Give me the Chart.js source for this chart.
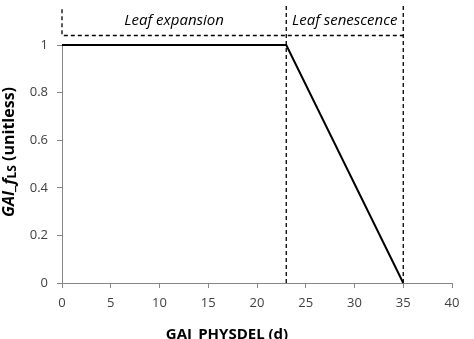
<!DOCTYPE html>
<html><head><meta charset="utf-8">
<script src="https://cdn.jsdelivr.net/npm/chart.js@4/dist/chart.umd.min.js"></script>
<style>html,body{margin:0;padding:0;background:#fff}#wrap{width:474px;height:339px}</style>
</head><body><div id="wrap"><canvas id="c" width="474" height="339"></canvas></div>
<script>
// Data
const curveX = [0, 23, 35];
const curveY = [1, 1, 0];
const phaseBounds = [0, 23, 35];
const phaseLabels = ['Leaf expansion', 'Leaf senescence'];
const headerY = 1.04;     // dashed horizontal box line (value units)
const headerTop = 1.165;  // top of dashed vertical separators
const xTicks = [0, 5, 10, 15, 20, 25, 30, 35, 40];
const yTicks = [0, 0.2, 0.4, 0.6, 0.8, 1];

const dashStyle = {borderColor:'#000', borderWidth:1.3, borderDash:[4,3], pointRadius:0, fill:false, clip:false, tension:0};

const datasets = [
  {data: curveX.map((x,i)=>({x, y: curveY[i]})), borderColor:'#000', borderWidth:2, pointRadius:0, fill:false, tension:0, clip:false, order:0},
  Object.assign({data:[{x:phaseBounds[0], y:headerTop-0.015},{x:phaseBounds[0], y:headerY},{x:phaseBounds[2], y:headerY}]}, dashStyle),
  Object.assign({data:[{x:phaseBounds[1], y:0},{x:phaseBounds[1], y:headerTop}]}, dashStyle),
  Object.assign({data:[{x:phaseBounds[2], y:0},{x:phaseBounds[2], y:headerTop}]}, dashStyle)
];

const textPlugin = {
  id:'texts',
  afterDraw(chart){
    const ctx = chart.ctx, xs = chart.scales.x, ys = chart.scales.y, a = chart.chartArea;
    ctx.save();
    ctx.fillStyle = '#000';
    ctx.font = 'italic 15px "Open Sans"';
    ctx.textAlign = 'center'; ctx.textBaseline = 'middle';
    const ty = (ys.getPixelForValue(headerY) + ys.getPixelForValue(headerTop)) / 2;
    for (let i = 0; i < phaseLabels.length; i++) {
      const cx = (xs.getPixelForValue(phaseBounds[i]) + xs.getPixelForValue(phaseBounds[i+1])) / 2;
      ctx.fillText(phaseLabels[i], cx, ty);
    }
    // x title
    ctx.font = 'bold 15px "Open Sans"';
    ctx.fillText('GAI_PHYSDEL (d)', 227, a.bottom + 52);
    // y title (rotated, rich)
    ctx.translate(9, 152);
    ctx.rotate(-Math.PI/2);
    const parts = [
      {t:'GAI_f', f:'italic bold 16px "Open Sans"', dy:0},
      {t:'LS', f:'bold 12px "Open Sans"', dy:4},
      {t:' (unitless)', f:'bold 16px "Open Sans"', dy:0}
    ];
    let w = 0;
    parts.forEach(p=>{ctx.font=p.f; p.w=ctx.measureText(p.t).width; w+=p.w;});
    let x = -w/2;
    ctx.textAlign = 'left';
    parts.forEach(p=>{ctx.font=p.f; ctx.fillText(p.t, x, p.dy); x+=p.w;});
    ctx.restore();
  }
};

new Chart(document.getElementById('c'), {
  type:'line',
  data:{datasets},
  options:{
    responsive:false, animation:false,
    layout:{padding:{top:45, right:22, left:0, bottom:0}},
    plugins:{legend:{display:false}, tooltip:{enabled:false}},
    scales:{
      x:{type:'linear', min:0, max:40,
        afterBuildTicks(s){ s.ticks = xTicks.map(v=>({value:v})); },
        afterFit(s){ s.height = 56; },
        border:{color:'#868686', width:1},
        grid:{drawOnChartArea:false, tickLength:5, color:'#868686'},
        ticks:{color:'#404040', font:{family:'Open Sans', size:13}, padding:7, maxRotation:0}
      },
      y:{min:0, max:1,
        afterBuildTicks(s){ s.ticks = yTicks.map(v=>({value:v})); },
        afterFit(s){ s.width = 62; },
        border:{color:'#868686', width:1},
        grid:{drawOnChartArea:false, tickLength:5, color:'#868686'},
        ticks:{color:'#404040', font:{family:'Open Sans', size:13}, padding:9,
          callback:(v)=>String(Math.round(v*10)/10)}
      }
    }
  },
  plugins:[textPlugin]
});
</script></body></html>
